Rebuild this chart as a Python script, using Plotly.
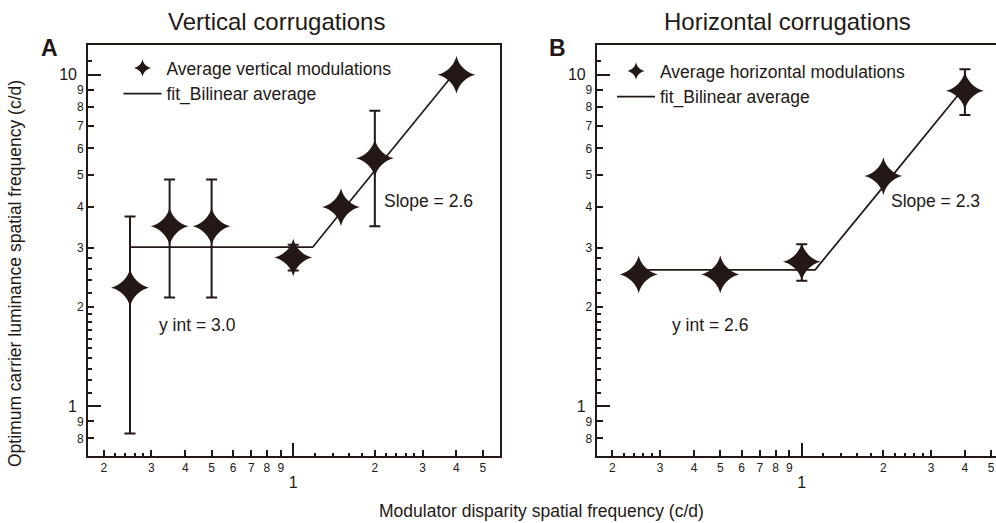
import numpy as np
import plotly.graph_objects as go

INK = "#231815"
FONT = "Liberation Sans, Arial, sans-serif"

# ---------------- data ----------------
# Panel A: vertical corrugations
vert_x = [0.25, 0.35, 0.5, 1.0, 1.5, 2.0, 4.0]
vert_y = [2.28, 3.49, 3.49, 2.81, 3.99, 5.6, 10.0]
vert_hi = [3.74, 4.83, 4.83, 3.07, 3.99, 7.79, 10.0]
vert_lo = [0.828, 2.13, 2.13, 2.57, 3.99, 3.49, 10.0]
vert_fit_x = [0.25, 1.18, 1.5, 2.0, 3.0, 4.0]
vert_fit_y = [3.02, 3.02, 3.85, 5.15, 7.75, 10.3]

# Panel B: horizontal corrugations
horiz_x = [0.25, 0.5, 1.0, 2.0, 4.0]
horiz_y = [2.5, 2.5, 2.73, 4.95, 8.95]
horiz_hi = [2.5, 2.5, 3.08, 4.95, 10.4]
horiz_lo = [2.5, 2.5, 2.39, 4.95, 7.56]
horiz_fit_x = [0.25, 1.12, 2.0, 3.0, 4.0]
horiz_fit_y = [2.58, 2.58, 4.6, 6.9, 9.2]

# tick definitions
x_major_vals = [0.2, 0.3, 0.4, 0.5, 0.6, 0.7, 0.8, 0.9, 2, 3, 4, 5]
x_major_text = ["2", "3", "4", "5", "6", "7", "8", "9", "2", "3", "4", "5"]
x_minor_vals = [0.22, 0.24, 0.26, 0.28, 1.2, 1.4, 1.6, 1.8, 2.2, 2.4, 2.6, 2.8]
x_big_vals = [1]
x_big_text = ["1"]

y_major_vals = [0.8, 0.9, 2, 3, 4, 5, 6, 7, 8, 9]
y_major_text = ["8", "9", "2", "3", "4", "5", "6", "7", "8", "9"]
y_minor_vals = [1.1, 1.2, 1.3, 1.4, 1.5, 1.6, 1.7, 1.8, 1.9, 2.2, 2.4, 2.6, 2.8, 11]
y_big_vals = [1, 10]
y_big_text = ["1", "10"]

# axis ranges
x_min, xa_max, xb_max = 0.175, 5.79, 5.21
y_min, y_max = 0.708, 12.3

# ---------------- geometry ----------------
W, H = 996, 523
L, R, T, B = 88, 0, 45, 67
PW, PH = W - L - R, H - T - B


def pxx(x):
    return (x - L) / PW


def pxy(y):
    return (H - B - y) / PH


dom_a = [0, pxx(500)]
dom_b = [pxx(596.7), 1]

fig = go.Figure()


def err(y, hi, lo):
    return dict(type="data", symmetric=False,
                array=[h - v for h, v in zip(hi, y)],
                arrayminus=[v - l for v, l in zip(y, lo)],
                color=INK, thickness=2, width=5.5)


STAR = dict(symbol="star-diamond", size=27, color=INK)
STAR_LEG = dict(symbol="star-diamond", size=12, color=INK)

panels = [
    ("x", "y", "legend", vert_x, vert_y, vert_hi, vert_lo, vert_fit_x, vert_fit_y,
     "Average vertical modulations"),
    ("x2", "y2", "legend2", horiz_x, horiz_y, horiz_hi, horiz_lo, horiz_fit_x, horiz_fit_y,
     "Average horizontal modulations"),
]
for xa, ya, lg, px_, py_, hi, lo, fx, fy, nm in panels:
    fig.add_trace(go.Scatter(x=fx, y=fy, mode="lines",
                             line=dict(color=INK, width=1.7), name="fit_Bilinear average",
                             xaxis=xa, yaxis=ya, legend=lg, legendrank=2))
    fig.add_trace(go.Scatter(x=px_, y=py_, mode="markers", marker=STAR,
                             error_y=err(py_, hi, lo), name=nm, showlegend=False,
                             xaxis=xa, yaxis=ya))
    # legend-only entry with the small star used in the key
    fig.add_trace(go.Scatter(x=[None], y=[None], mode="markers", marker=STAR_LEG,
                             name=nm, xaxis=xa, yaxis=ya, legend=lg, legendrank=1))

# empty helper traces so the overlay (tick-only) axes get drawn
for xa, ya in [("x3", "y3"), ("x4", "y4"), ("x5", "y5"), ("x6", "y6")]:
    fig.add_trace(go.Scatter(x=[], y=[], xaxis=xa, yaxis=ya, showlegend=False,
                             hoverinfo="skip"))


def log_axis(vals, text, rng, ticklen, size=12, standoff=None, **kw):
    d = dict(type="log", range=[np.log10(rng[0]), np.log10(rng[1])],
             showgrid=False, zeroline=False, showline=False,
             ticks="inside", ticklen=ticklen, tickwidth=2 if ticklen > 4 else 1.5,
             tickcolor=INK, tickmode="array", tickvals=vals, ticktext=text,
             tickfont=dict(family=FONT, size=size, color=INK))
    if standoff is not None:
        d["ticklabelstandoff"] = standoff
    d.update(kw)
    return d


line_kw = dict(showline=True, linecolor=INK, linewidth=2)

legend_common = dict(font=dict(family=FONT, size=17.5, color=INK),
                     bgcolor="rgba(0,0,0,0)", itemwidth=38, itemsizing="trace",
                     traceorder="normal", xanchor="left", yanchor="top",
                     tracegroupgap=0)

annots = [
    dict(text="Vertical corrugations", x=pxx(276.7), y=pxy(22), font=dict(size=24)),
    dict(text="Horizontal corrugations", x=pxx(787), y=pxy(22), font=dict(size=24)),
    dict(text="<b>A</b>", x=pxx(49), y=pxy(48), font=dict(size=23)),
    dict(text="<b>B</b>", x=pxx(557), y=pxy(48), font=dict(size=23)),
    dict(text="Modulator disparity spatial frequency (c/d)", x=pxx(541), y=pxy(511),
         font=dict(size=17.5)),
    dict(text="Optimum carrier luminance spatial frequency (c/d)", x=pxx(15), y=pxy(274),
         textangle=-90, font=dict(size=17.5)),
]
for a in annots:
    a.update(xref="paper", yref="paper", showarrow=False, xanchor="center", yanchor="middle")
    a["font"].update(family=FONT, color=INK)

data_annots = [
    dict(text="Slope = 2.6", x=3.15, y=4.17, xref="x", yref="y"),
    dict(text="y int = 3.0", x=0.444, y=1.763, xref="x", yref="y"),
    dict(text="Slope = 2.3", x=3.11, y=4.17, xref="x2", yref="y2"),
    dict(text="y int = 2.6", x=0.4587, y=1.763, xref="x2", yref="y2"),
]
for a in data_annots:
    a.update(x=np.log10(a["x"]), y=np.log10(a["y"]), showarrow=False,
             xanchor="center", yanchor="middle",
             font=dict(family=FONT, size=17.5, color=INK))

fig.update_layout(
    width=W, height=H,
    margin=dict(l=L, r=R, t=T, b=B, pad=0),
    paper_bgcolor="white", plot_bgcolor="white",
    font=dict(family=FONT, color=INK),
    showlegend=True,
    # panel A main axes (labelled small ticks)
    xaxis=log_axis(x_major_vals, x_major_text, [x_min, xa_max], 6,
                   domain=dom_a, anchor="y", mirror=True, **line_kw),
    yaxis=log_axis(y_major_vals, y_major_text, [y_min, y_max], 6,
                   anchor="x", mirror=True, **line_kw),
    # panel B main axes
    xaxis2=log_axis(x_major_vals, x_major_text, [x_min, xb_max], 6,
                    domain=dom_b, anchor="y2", mirror=True, **line_kw),
    yaxis2=log_axis(y_major_vals, y_major_text, [y_min, y_max], 6,
                    anchor="x2", mirror=False, **line_kw),
    # big ticks (1, 10) panel A / B
    xaxis3=log_axis(x_big_vals, x_big_text, [x_min, xa_max], 13, size=16, standoff=15,
                    overlaying="x", anchor="y"),
    yaxis3=log_axis(y_big_vals, y_big_text, [y_min, y_max], 13, size=16, standoff=10,
                    overlaying="y", anchor="x"),
    xaxis4=log_axis(x_big_vals, x_big_text, [x_min, xb_max], 13, size=16, standoff=15,
                    overlaying="x2", anchor="y2"),
    yaxis4=log_axis(y_big_vals, y_big_text, [y_min, y_max], 13, size=16, standoff=10,
                    overlaying="y2", anchor="x2"),
    # minor ticks panel A / B
    xaxis5=log_axis(x_minor_vals, [""] * len(x_minor_vals), [x_min, xa_max], 3,
                    overlaying="x", anchor="y", showticklabels=False),
    yaxis5=log_axis(y_minor_vals, [""] * len(y_minor_vals), [y_min, y_max], 4,
                    overlaying="y", anchor="x", showticklabels=False),
    xaxis6=log_axis(x_minor_vals, [""] * len(x_minor_vals), [x_min, xb_max], 3,
                    overlaying="x2", anchor="y2", showticklabels=False),
    yaxis6=log_axis(y_minor_vals, [""] * len(y_minor_vals), [y_min, y_max], 4,
                    overlaying="y2", anchor="x2", showticklabels=False),
    legend=dict(x=pxx(118.5), y=pxy(50), **legend_common),
    legend2=dict(x=pxx(612), y=pxy(53), **legend_common),
    annotations=annots + data_annots,
)

fig.write_html("out.html")
